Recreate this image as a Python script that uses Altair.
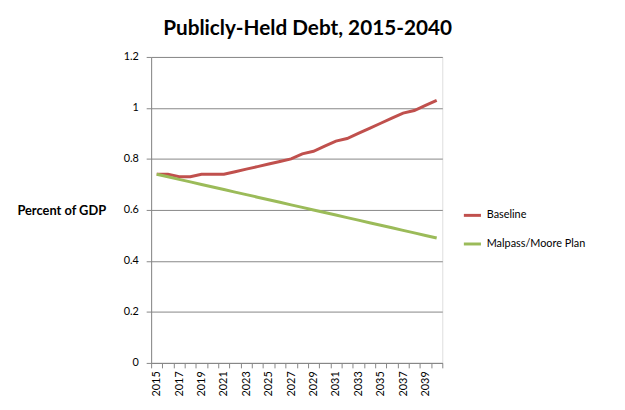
import altair as alt
import pandas as pd

years = list(range(2015, 2041))
baseline = [0.74, 0.74, 0.73, 0.73, 0.74, 0.74, 0.74, 0.75, 0.76, 0.77, 0.78, 0.79, 0.80,
            0.82, 0.83, 0.85, 0.87, 0.88, 0.90, 0.92, 0.94, 0.96, 0.98, 0.99, 1.01, 1.03]
malpass = [0.74, 0.73, 0.72, 0.71, 0.70, 0.69, 0.68, 0.67, 0.66, 0.65, 0.64, 0.63, 0.62,
           0.61, 0.60, 0.59, 0.58, 0.57, 0.56, 0.55, 0.54, 0.53, 0.52, 0.51, 0.50, 0.49]
series_names = ["Baseline", "Malpass/Moore Plan"]
colors = ["#C0504D", "#9BBB59"]
y_ticks = [0, 0.2, 0.4, 0.6, 0.8, 1.0, 1.2]

rows = []
for name, vals in zip(series_names, [baseline, malpass]):
    for yr, v in zip(years, vals):
        rows.append({"year": yr, "value": v, "series": name})
df = pd.DataFrame(rows)

FONT = "Lato"

chart = alt.Chart(df).mark_line(strokeWidth=3).encode(
    x=alt.X("year:O", title=None,
            scale=alt.Scale(type="band", paddingInner=0, paddingOuter=0),
            axis=alt.Axis(labelAngle=-90, labelAlign="right", labelBaseline="middle",
                          labelExpr="datum.value % 2 == 1 ? datum.label : ''",
                          tickBand="extent", tickSize=5, labelPadding=3,
                          domainColor="#868686", tickColor="#868686",
                          labelFontSize=11, labelColor="#000000", labelFont=FONT,
                          grid=False)),
    y=alt.Y("value:Q", title="Percent of GDP",
            scale=alt.Scale(domain=[0, 1.2], nice=False),
            axis=alt.Axis(values=y_ticks, format=".1~f", tickSize=5,
                          domainColor="#868686", tickColor="#868686",
                          gridColor="#868686", grid=True,
                          labelFontSize=11, labelColor="#000000", labelFont=FONT,
                          labelPadding=8,
                          titleAngle=0, titleAlign="left", titleBaseline="middle",
                          titleX=-136, titleY=156, titleFont=FONT, titleFontSize=13,
                          titleFontWeight="bold", titleColor="#000000")),
    color=alt.Color("series:N", sort=series_names,
                    scale=alt.Scale(domain=series_names, range=colors),
                    legend=alt.Legend(title=None, orient="none", legendX=315, legendY=150,
                                      symbolType="stroke", symbolSize=300, symbolStrokeWidth=3,
                                      rowPadding=12, labelFont=FONT, labelFontSize=11,
                                      labelColor="#000000")),
).properties(
    width=295, height=310,
    autosize=alt.AutoSizeParams(type="none"),
    padding={"left": 145, "top": 47, "right": 177, "bottom": 37},
    title=alt.TitleParams("Publicly-Held Debt, 2015-2040", font=FONT, fontSize=21,
                          fontWeight="bold", color="#000000", anchor="middle", dx=11,
                          offset=12),
).configure_view(stroke=None).configure(background="white")

chart.save("out.html", embed_options={"renderer": "svg", "actions": False})
